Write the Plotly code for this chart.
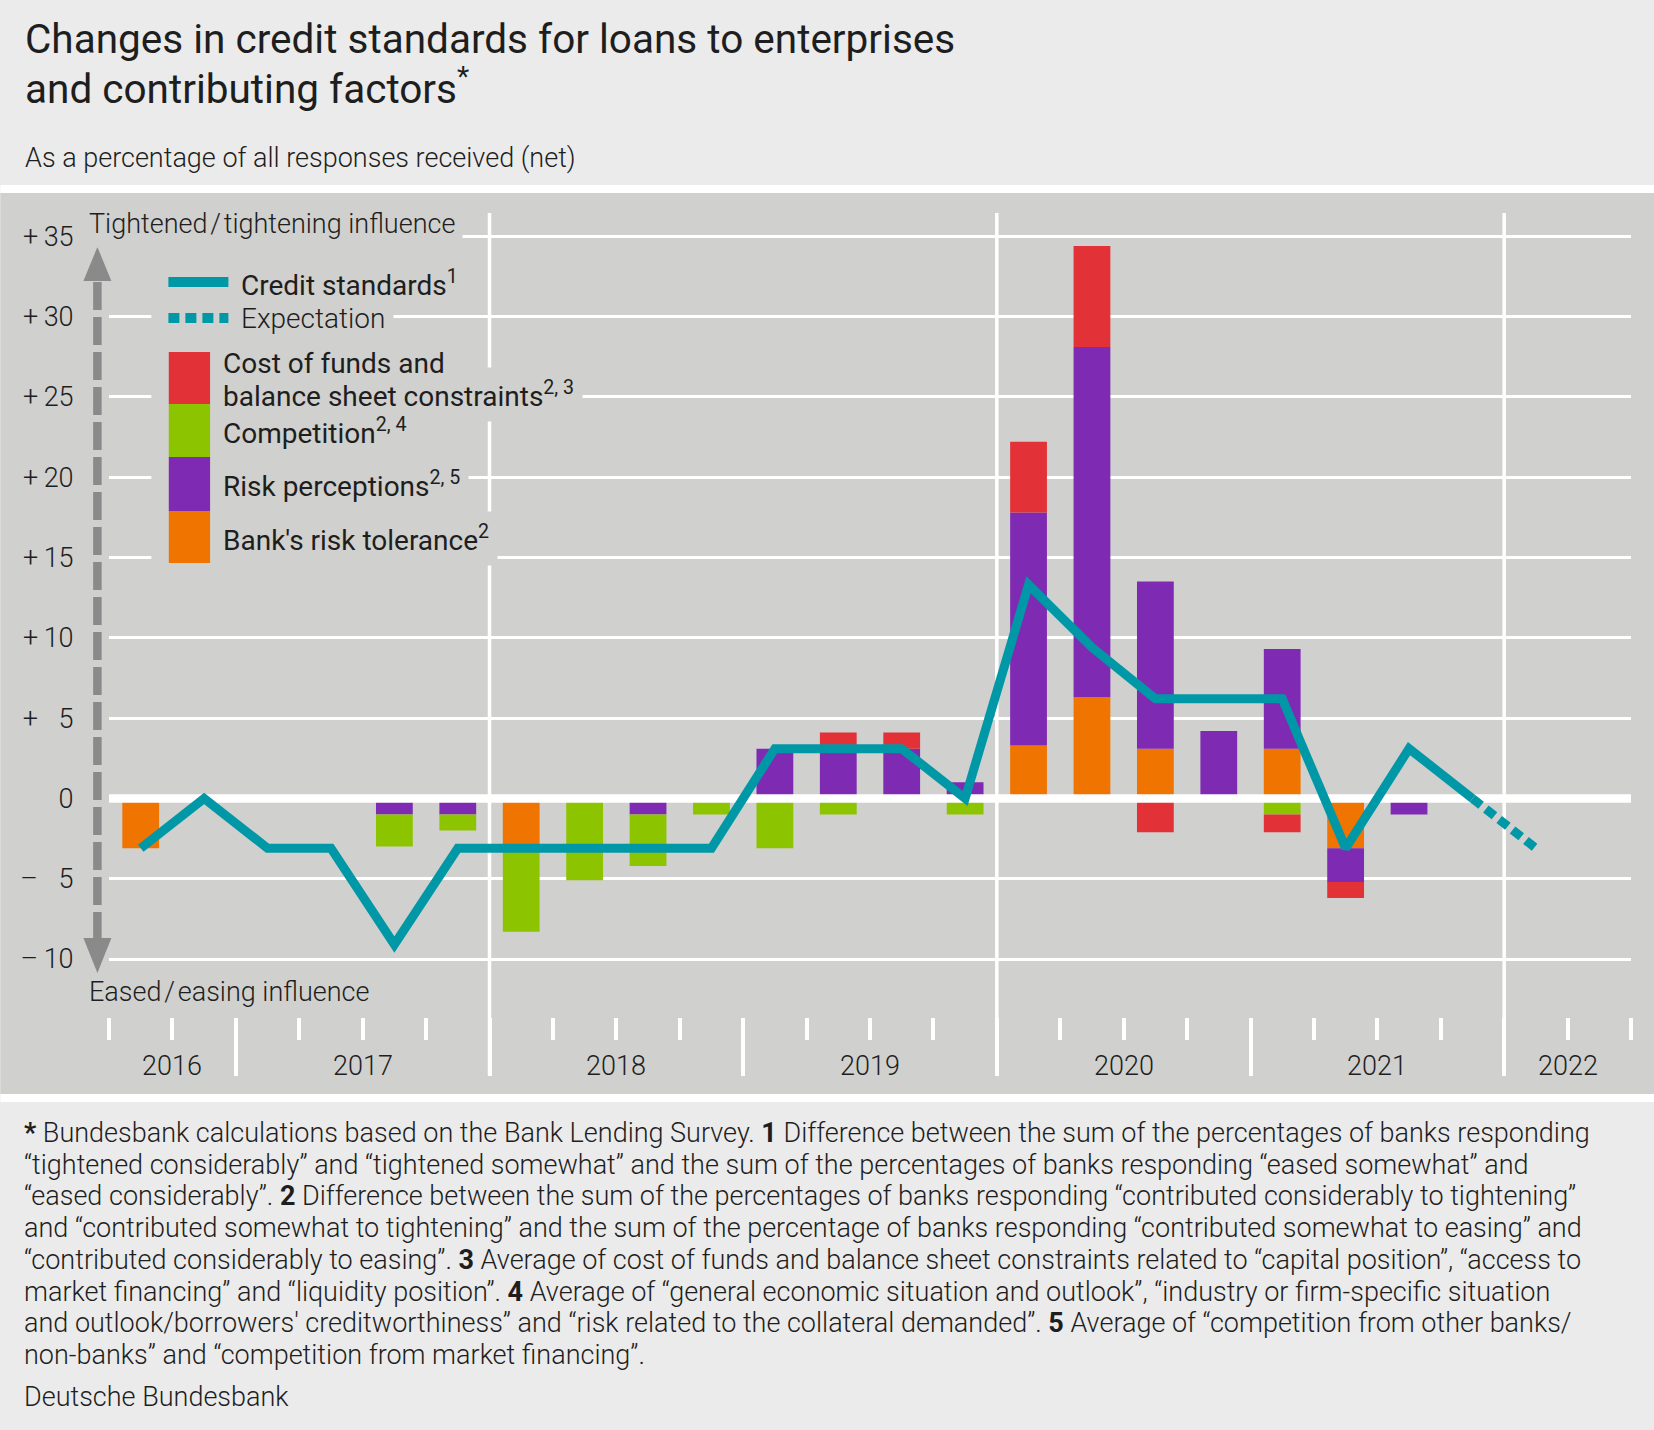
import plotly.graph_objects as go

# ---- data ----
quarters = ["2016 Q3", "2016 Q4",
            "2017 Q1", "2017 Q2", "2017 Q3", "2017 Q4",
            "2018 Q1", "2018 Q2", "2018 Q3", "2018 Q4",
            "2019 Q1", "2019 Q2", "2019 Q3", "2019 Q4",
            "2020 Q1", "2020 Q2", "2020 Q3", "2020 Q4",
            "2021 Q1", "2021 Q2", "2021 Q3", "2021 Q4",
            "2022 Q1", "2022 Q2"]
years = ["2016", "2017", "2018", "2019", "2020", "2021", "2022"]

credit_standards = [-3.1, 0.0, -3.1, -3.1, -9.1, -3.1, -3.1, -3.1, -3.2, -3.1,
                    3.1, 3.1, 3.1, 0.0, 13.3, 9.4, 6.2, 6.2, 6.2, -3.1, 3.1, 0.0,
                    None, None]
expectation = [None, None, None, None, None, None, None, None, None, None,
               None, None, None, None, None, None, None, None, None, None, None, 0.0,
               -3.1, None]
risk_tolerance = [-3.1, 0, 0, 0, 0, 0, -3.1, 0, 0, 0,
                  0, 0, 0, 0, 3.3, 6.3, 3.1, 0, 3.1, -3.1, 0, 0, 0, 0]
risk_perceptions = [0, 0, 0, 0, -1.0, -1.0, 0, 0, -1.0, 0,
                    3.1, 3.1, 3.1, 1.0, 14.5, 21.8, 10.4, 4.2, 6.2, -2.1, -1.0, 0, 0, 0]
competition = [0, 0, 0, 0, -2.0, -1.0, -5.2, -5.1, -3.2, -1.0,
               -3.1, -1.0, 0, -1.0, 0, 0, 0, 0, -1.0, 0, 0, 0, 0, 0]
cost_of_funds = [0, 0, 0, 0, 0, 0, 0, 0, 0, 0,
                 0, 1.0, 1.0, 0, 4.4, 6.3, -2.1, 0, -1.1, -1.0, 0, 0, 0, 0]

y_ticks = [-10, -5, 0, 5, 10, 15, 20, 25, 30, 35]
y_ticktext = ["\u2013\u200910", "\u2013\u2009\u20075", "0", "+\u2009\u20075", "+\u200910",
              "+\u200915", "+\u200920", "+\u200925", "+\u200930", "+\u200935"]

footnotes = [
    "<b>*</b> Bundesbank calculations based on the Bank Lending Survey. <b>1</b> Difference between the sum of the percentages of banks responding",
    "\u201ctightened considerably\u201d and \u201ctightened somewhat\u201d and the sum of the percentages of banks responding \u201ceased somewhat\u201d and",
    "\u201ceased considerably\u201d. <b>2</b> Difference between the sum of the percentages of banks responding \u201ccontributed considerably to tightening\u201d",
    "and \u201ccontributed somewhat to tightening\u201d and the sum of the percentage of banks responding \u201ccontributed somewhat to easing\u201d and",
    "\u201ccontributed considerably to easing\u201d. <b>3</b> Average of cost of funds and balance sheet constraints related to \u201ccapital position\u201d, \u201caccess to",
    "market financing\u201d and \u201cliquidity position\u201d. <b>4</b> Average of \u201cgeneral economic situation and outlook\u201d, \u201cindustry or firm-specific situation",
    "and outlook/borrowers' creditworthiness\u201d and \u201crisk related to the collateral demanded\u201d. <b>5</b> Average of \u201ccompetition from other banks/",
    "non-banks\u201d and \u201ccompetition from market financing\u201d.",
]

# ---- style ----
W, H = 1654, 1430
PL, PR, PT, PB = 108.6, 1630.8, 213, 1075   # plot area in pixels
PAGE = "#ebebeb"
PANEL = "#d0d0ce"
TEXT = "#1e1e1e"
TEAL = "#0098a6"
RED = "#e33138"
GREEN = "#8dc400"
PURPLE = "#7f2ab2"
ORANGE = "#ef7500"
GREY = "#8a8a8a"
FONT = "Roboto, 'Open Sans', sans-serif"


def fx(p):
    return (p - PL) / (PR - PL)


def fy(p):
    return (PB - p) / (PB - PT)


xpos = list(range(len(quarters)))
x_range = [-0.5, len(quarters) - 0.5]
year_bounds = [i - 0.5 for i, q in enumerate(quarters) if q.endswith("Q1")]
grid_bounds = [i - 0.5 for i, q in enumerate(quarters)
               if q.endswith("Q1") and int(q[:4]) % 2 == 0]

fig = go.Figure()

for vals, color in [(risk_tolerance, ORANGE), (risk_perceptions, PURPLE),
                    (competition, GREEN), (cost_of_funds, RED)]:
    fig.add_trace(go.Bar(x=xpos, y=vals, width=0.58, marker=dict(color=color, line_width=0),
                         hoverinfo="skip"))

# thick white zero line between bars and the credit standards line
fig.add_trace(go.Scatter(x=x_range, y=[0, 0], mode="lines",
                         line=dict(color="white", width=8.5), hoverinfo="skip"))
fig.add_trace(go.Scatter(x=xpos, y=credit_standards, mode="lines",
                         line=dict(color=TEAL, width=9)))
fig.add_trace(go.Scatter(x=xpos, y=expectation, mode="lines",
                         line=dict(color=TEAL, width=9, dash="11px,6px")))

fig.update_layout(
    width=W, height=H,
    margin=dict(l=PL, r=W - PR, t=PT, b=H - PB, autoexpand=False),
    paper_bgcolor=PAGE, plot_bgcolor=PANEL,
    barmode="relative", showlegend=False,
    font=dict(family=FONT, size=27, color=TEXT, weight=300),
)

fig.update_yaxes(
    range=[-17.22, 36.45], tickvals=y_ticks, ticktext=y_ticktext,
    showgrid=True, gridcolor="white", gridwidth=3, zeroline=False, showline=False,
    ticks="outside", ticklen=29, tickcolor="rgba(0,0,0,0)",
    tickfont=dict(size=27, color=TEXT, weight=300),
)
fig.update_xaxes(
    range=x_range, anchor="free", position=(PB - 1016.5) / (PB - PT),
    tickmode="array", tickvals=year_bounds, showticklabels=False,
    ticks="outside", ticklen=58.5, tickwidth=3.5, tickcolor="white",
    showgrid=False, zeroline=False, showline=False,
    minor=dict(tickmode="linear", tick0=-0.5, dtick=1, ticks="outside", ticklen=22,
               tickwidth=3.5, tickcolor="white", showgrid=False),
)

shapes = [
    # grey panel with white rules
    dict(type="rect", xref="paper", yref="paper", x0=fx(0), x1=fx(W), y0=fy(1094), y1=fy(193),
         fillcolor=PANEL, line_width=0, layer="below"),
    dict(type="rect", xref="paper", yref="paper", x0=fx(0), x1=fx(W), y0=fy(193), y1=fy(185),
         fillcolor="white", line_width=0, layer="below"),
    dict(type="rect", xref="paper", yref="paper", x0=fx(0), x1=fx(W), y0=fy(1102), y1=fy(1094),
         fillcolor="white", line_width=0, layer="below"),
]
for b in grid_bounds:
    shapes.append(dict(type="line", xref="x", yref="paper", x0=b, x1=b, y0=0, y1=1,
                       line=dict(color="white", width=3.5), layer="below"))

# dashed double arrow
shapes += [
    dict(type="line", xref="paper", yref="paper", x0=fx(97), x1=fx(97), y0=fy(282), y1=fy(938),
         line=dict(color=GREY, width=8.5, dash="28px,7px"), layer="above"),
    dict(type="path", xref="paper", yref="paper",
         path=f"M {fx(97)},{fy(247)} L {fx(111)},{fy(281)} L {fx(83)},{fy(281)} Z",
         fillcolor=GREY, line_width=0, layer="above"),
    dict(type="path", xref="paper", yref="paper",
         path=f"M {fx(97)},{fy(973)} L {fx(111)},{fy(938)} L {fx(83)},{fy(938)} Z",
         fillcolor=GREY, line_width=0, layer="above"),
]

# legend: mask, line samples and stacked colour boxes
shapes += [
    dict(type="rect", xref="paper", yref="paper", x0=fx(151), x1=fx(236), y0=fy(573), y1=fy(262),
         fillcolor=PANEL, line_width=0, layer="above"),
    dict(type="line", xref="paper", yref="paper", x0=fx(168), x1=fx(228), y0=fy(282), y1=fy(282),
         line=dict(color=TEAL, width=10), layer="above"),
    dict(type="line", xref="paper", yref="paper", x0=fx(168), x1=fx(228), y0=fy(318), y1=fy(318),
         line=dict(color=TEAL, width=10, dash="11px,6px"), layer="above"),
]
for c, y0, y1 in [(RED, 352, 404), (GREEN, 404, 457), (PURPLE, 457, 511), (ORANGE, 511, 563)]:
    shapes.append(dict(type="rect", xref="paper", yref="paper", x0=fx(168.4), x1=fx(209.7),
                       y0=fy(y1), y1=fy(y0), fillcolor=c, line_width=0, layer="above"))
fig.update_layout(shapes=shapes)


def label(text, xp, yp, size=27, weight=300, bg=None, pad=1, xanchor="left"):
    fig.add_annotation(text=text, x=fx(xp - pad), y=fy(yp), xref="paper", yref="paper",
                       xanchor=xanchor, yanchor="middle", showarrow=False, align="left",
                       font=dict(family=FONT, size=size, weight=weight, color=TEXT),
                       bgcolor=bg, borderpad=pad)


# titles
label("Changes in credit standards for loans to enterprises", 24, 39, size=40.5, weight=400)
label("and contributing factors<sup>*</sup>", 24, 87, size=40.5, weight=400)
label("As a percentage of all responses received (net)", 24, 158)

# axis direction notes
label("Tightened\u200a/\u200atightening influence", 88, 224, bg=PANEL, pad=7)
label("Eased\u200a/\u200aeasing influence", 88, 992)

# legend texts: rows crossed by grid lines get a panel-coloured backdrop
label("Expectation", 240, 318, size=28, bg=PANEL, pad=8)
label("balance sheet constraints<sup>2, 3</sup>", 222, 394, size=28, weight=400, bg=PANEL, pad=8)
label("Risk perceptions<sup>2, 5</sup>", 222, 484, size=28, weight=400, bg=PANEL, pad=8)
label("Bank's risk tolerance<sup>2</sup>", 222, 538, size=28, weight=400, bg=PANEL, pad=8)
label("Credit standards<sup>1</sup>", 240, 283, size=28, weight=400)
label("Cost of funds and", 222, 363, size=28, weight=400)
label("Competition<sup>2, 4</sup>", 222, 431, size=28, weight=400)

# year labels centred on their quarters
for yr in years:
    idx = [i for i, q in enumerate(quarters) if q.startswith(yr)]
    fig.add_annotation(text=yr, x=sum(idx) / len(idx), y=fy(1066), xref="x", yref="paper",
                       xanchor="center", yanchor="middle", showarrow=False,
                       font=dict(family=FONT, size=27, weight=300, color=TEXT))

# footnotes and source
for k, line in enumerate(footnotes):
    label(line, 23, 1133 + k * 31.7)
label("Deutsche Bundesbank", 23, 1397)

fig.write_html("out.html", config={"displayModeBar": False},
               post_script="document.body.style.margin='0';")
